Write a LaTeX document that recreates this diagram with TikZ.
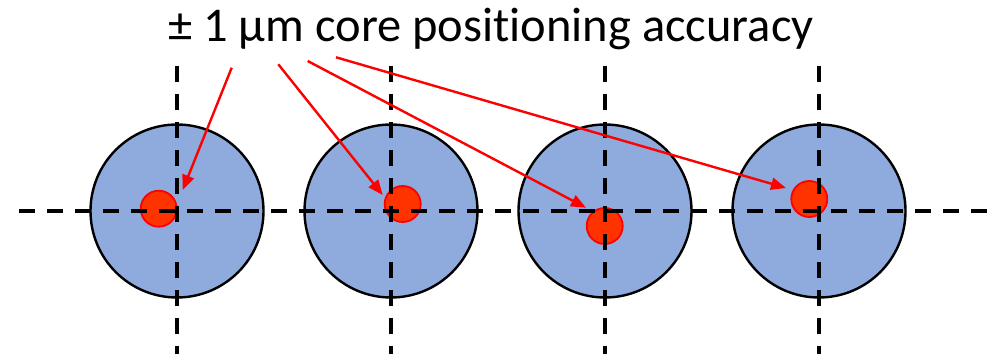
\documentclass[tikz,border=0pt]{standalone}
\usepackage{fontspec}
\setmainfont[Ligatures=NoCommon]{Carlito}
\usetikzlibrary{arrows.meta}
\definecolor{cladblue}{HTML}{8FAADC}
\definecolor{corefill}{HTML}{FF3300}
\definecolor{corered}{HTML}{FF0000}
\tikzset{
  clad/.style={circle, draw=black, line width=2.4pt, fill=cladblue, minimum size=173pt, inner sep=0pt},
  core/.style={circle, draw=corered, line width=1.8pt, fill=corefill, minimum size=36pt, inner sep=0pt},
  axis/.style={draw=black, line width=3.5pt, dash pattern=on 16pt off 12pt},
  pointer/.style={draw=corered, line width=2.4pt, -{Triangle[length=15pt,width=12pt]}},
}
\begin{document}
\begin{tikzpicture}[x=1pt,y=1pt]
\useasboundingbox (0,0) rectangle (992,354);
% claddings
\node[clad] (c1) at (177,143) {};
\node[clad] (c2) at (391,143) {};
\node[clad] (c3) at (605,143) {};
\node[clad] (c4) at (819,143) {};
% cores
\node[core] (k1) at (158.7,145.3) {};
\node[core] (k2) at (402.7,150) {};
\node[core] (k3) at (604.7,128) {};
\node[core] (k4) at (809.3,155) {};
% axes
\draw[axis] (19,143) -- (987,143);
\foreach \x in {177,391,605,819} {
  \draw[axis] (\x,288) -- (\x,0);
}
% title
\node[anchor=base, font=\fontsize{48.5}{56}\selectfont, inner sep=0pt] (title) at (491,312) {± 1 µm core posit\kern0pt ioning accuracy};
% pointer coordinates
\coordinate (s1) at (231.7,286.3);
\coordinate (s2) at (278.3,289.7);
\coordinate (s3) at (307.7,293);
\coordinate (s4) at (336,296.7);
\coordinate (t1) at (182.7,164);
\coordinate (t2) at (382.7,159);
\coordinate (t3) at (586,146.3);
\coordinate (t4) at (786,166);
\draw[pointer] (s1) -- (t1);
\draw[pointer] (s2) -- (t2);
\draw[pointer] (s3) -- (t3);
\draw[pointer] (s4) -- (t4);
\end{tikzpicture}
\end{document}
